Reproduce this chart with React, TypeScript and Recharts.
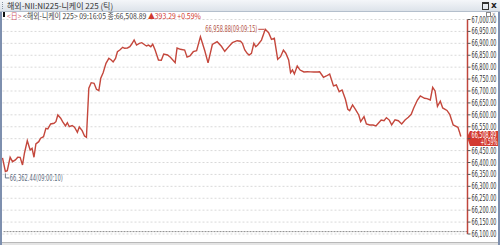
import { LineChart, Line, XAxis, YAxis, CartesianGrid, ReferenceLine } from 'recharts';

const times = [
  '09:00:04', '09:00:10', '09:00:14', '09:00:20', '09:00:25', '09:00:31', '09:00:36', '09:00:41', '09:00:46', '09:00:50', '09:00:56',
  '09:01:02', '09:01:06', '09:01:10', '09:01:14', '09:01:20', '09:01:24', '09:01:30', '09:01:35', '09:01:39', '09:01:45', '09:01:52', '09:01:56',
  '09:02:00', '09:02:06', '09:02:10', '09:02:16', '09:02:20', '09:02:24', '09:02:30', '09:02:35', '09:02:41', '09:02:45', '09:02:51', '09:02:56',
  '09:03:00', '09:03:05', '09:03:10', '09:03:16', '09:03:21', '09:03:26', '09:03:30', '09:03:35', '09:03:41', '09:03:47', '09:03:52', '09:03:56',
  '09:04:01', '09:04:05', '09:04:10', '09:04:16', '09:04:20', '09:04:26', '09:04:31', '09:04:35', '09:04:40', '09:04:45', '09:04:51', '09:04:56',
  '09:05:02', '09:05:06', '09:05:10', '09:05:15', '09:05:19', '09:05:24', '09:05:31', '09:05:37', '09:05:42', '09:05:50', '09:05:56',
  '09:06:06', '09:06:10', '09:06:17', '09:06:26', '09:06:31', '09:06:37', '09:06:44', '09:06:51', '09:06:59',
  '09:07:08', '09:07:15', '09:07:24', '09:07:34', '09:07:43', '09:07:50', '09:07:58',
  '09:08:06', '09:08:16', '09:08:23', '09:08:27', '09:08:32', '09:08:37', '09:08:41', '09:08:46', '09:08:51', '09:08:55', '09:08:59',
  '09:09:07', '09:09:15', '09:09:22', '09:09:28', '09:09:34', '09:09:41', '09:09:47', '09:09:53', '09:09:58',
  '09:10:04', '09:10:08', '09:10:12', '09:10:16', '09:10:22', '09:10:28', '09:10:36', '09:10:43', '09:10:50', '09:10:57',
  '09:11:04', '09:11:09', '09:11:17', '09:11:23', '09:11:30', '09:11:38', '09:11:44', '09:11:50', '09:11:56',
  '09:12:03', '09:12:08', '09:12:12', '09:12:18', '09:12:24', '09:12:31', '09:12:35', '09:12:42', '09:12:47', '09:12:54',
  '09:13:01', '09:13:07', '09:13:12', '09:13:18', '09:13:24', '09:13:29', '09:13:35', '09:13:40', '09:13:47', '09:13:54',
  '09:14:01', '09:14:08', '09:14:15', '09:14:21', '09:14:26', '09:14:34', '09:14:40', '09:14:49', '09:14:54',
  '09:15:01', '09:15:06', '09:15:11', '09:15:16', '09:15:22', '09:15:27', '09:15:36', '09:15:42', '09:15:49', '09:15:54', '09:15:59',
  '09:16:02', '09:16:05',
];

const prices = [
  66419.0, 66362.44, 66365.8, 66422.0, 66403.5, 66410.7, 66422.0, 66421.5, 66389.7, 66438.8, 66491.6,
  66452.6, 66459.7, 66422.0, 66477.8, 66487.4, 66501.7, 66508.4, 66543.6, 66541.2, 66561.7, 66564.6, 66571.3,
  66599.4, 66585.6, 66571.3, 66553.3, 66567.1, 66550.3, 66555.1, 66547.8, 66526.8, 66549.0, 66533.6, 66511.3,
  66505.9, 66711.4, 66734.9, 66732.4, 66707.2, 66701.3, 66753.4, 66776.8, 66816.3, 66837.2, 66830.1, 66821.7,
  66836.5, 66864.9, 66872.1, 66883.4, 66879.2, 66880.5, 66885.9, 66897.2, 66914.0, 66893.0, 66900.2, 66902.7,
  66894.1, 66888.8, 66892.4, 66885.9, 66896.5, 66872.1, 66830.1, 66829.4, 66855.3, 66851.1, 66841.4,
  66818.8, 66880.5, 66875.0, 66871.8, 66841.9, 66846.9, 66864.9, 66869.1, 66927.9,
  66870.0, 66818.1, 66895.1, 66906.9, 66887.6, 66866.6, 66885.2,
  66902.7, 66911.1, 66909.0, 66900.2, 66872.5, 66858.2, 66851.0, 66857.8, 66899.5, 66885.9, 66893.0,
  66913.6, 66958.88, 66944.6, 66916.9, 66921.1, 66833.1, 66844.0, 66871.6, 66858.5,
  66830.5, 66776.8, 66788.2, 66771.4, 66805.0, 66787.9, 66779.8, 66781.0, 66780.1, 66779.6,
  66779.8, 66780.6, 66757.6, 66763.0, 66771.0, 66721.1, 66725.3, 66697.1, 66704.3,
  66665.3, 66623.3, 66617.5, 66641.4, 66623.0, 66599.4, 66571.3, 66592.3, 66561.7, 66557.5,
  66557.1, 66553.3, 66564.6, 66578.4, 66575.5, 66588.1, 66578.0, 66557.9, 66578.8, 66575.2,
  66562.0, 66578.6, 66589.8, 66602.4, 66627.5, 66662.3, 66679.1, 66669.5, 66667.8,
  66662.3, 66715.6, 66700.1, 66635.9, 66657.3, 66628.8, 66618.3, 66600.7, 66557.8, 66553.0, 66547.8,
  66529.4, 66508.89,
];

const yTicks = [
  67000, 66950, 66900, 66850, 66800, 66750, 66700, 66650, 66600, 66550,
  66500, 66450, 66400, 66350, 66300, 66250, 66200, 66150, 66100,
];

const lastTime = '09:16:05';
const change = 393.29;
const changePct = 0.59;
const baseline = 66110;

const toSec = (s: string) => {
  const [h, m, ss] = s.split(':').map(Number);
  return (h - 9) * 3600 + m * 60 + ss;
};

const fmt = (n: number) =>
  n.toLocaleString('en-US', { minimumFractionDigits: 2, maximumFractionDigits: 2 });

const data = times.map((t, i) => ({ t: toSec(t), label: t, price: prices[i] }));
const lastPrice = prices[prices.length - 1];
const maxIdx = prices.indexOf(Math.max(...prices));
const minIdx = prices.indexOf(Math.min(...prices));

const NARROW = '"Liberation Sans Narrow", "Arial Narrow", "DejaVu Sans Condensed", sans-serif';
const KR = '"Noto Sans CJK KR", sans-serif';
const LINE_RED = '#c4473c';

function ExtremeDot(props: any) {
  const { cx, cy, index } = props;
  if (index === maxIdx) {
    return (
      <g key={`dot-${index}`}>
        <line x1={cx - 7} y1={cy} x2={cx - 1} y2={cy} stroke={LINE_RED} strokeWidth={1} />
        <text x={cx - 60} y={cy} dominantBaseline="central" fontSize={8.5} fontFamily={NARROW} fill="#b5574a"
          textLength={52} lengthAdjust="spacingAndGlyphs">
          {`${fmt(prices[index])}(${times[index]})`}
        </text>
      </g>
    );
  }
  if (index === minIdx) {
    return (
      <g key={`dot-${index}`}>
        <path d={`M${cx},${cy + 2} V${cy + 6.5} H${cx + 4}`} fill="none" stroke="#6a7888" strokeWidth={1} />
        <text x={cx + 4.5} y={cy + 6.5} dominantBaseline="central" fontSize={8.5} fontFamily={NARROW} fill="#5c6b7e"
          textLength={53} lengthAdjust="spacingAndGlyphs">
          {`${fmt(prices[index])}(${times[index]})`}
        </text>
      </g>
    );
  }
  return <g key={`dot-${index}`} />;
}

// the price tag covers the label next to the last price, as in the original terminal
function YTick(props: any) {
  const { x, y, payload } = props;
  if (Math.abs(payload.value - lastPrice) < 25) return <g />;
  return (
    <text x={x} y={y} dominantBaseline="central" fontSize={8.5} fontFamily={NARROW} fill="#333"
      textLength={25} lengthAdjust="spacingAndGlyphs">
      {fmt(payload.value)}
    </text>
  );
}

function PriceTag(props: any) {
  const vb = props.viewBox || {};
  const x = vb.x + vb.width;
  const y = vb.y;
  return (
    <g>
      <path d={`M${x - 0.5},${y + 0.5} L${x + 2.5},${y - 5.5} H${x + 31} V${y + 9.5} H${x + 2.5} Z`} fill="#d33a30" />
      <text x={x + 4} y={y - 1} dominantBaseline="central" fontSize={8} fontFamily={NARROW} fill="#fff"
        textLength={25} lengthAdjust="spacingAndGlyphs">
        {fmt(lastPrice)}
      </text>
      <text x={x + 13} y={y + 5.5} dominantBaseline="central" fontSize={8} fontFamily={NARROW} fill="#fff"
        textLength={17} lengthAdjust="spacingAndGlyphs">
        {`+${changePct.toFixed(2)}%`}
      </text>
    </g>
  );
}

export default function App() {
  return (
    <div style={{ position: 'absolute', left: 0, top: 0, width: 500, height: 245, background: '#fff', overflow: 'hidden' }}>
      <LineChart width={500} height={245} data={data} margin={{ top: 19.5, right: 0, bottom: 11, left: 2.5 }}>
        <CartesianGrid vertical={false} stroke="#d9d9d9" strokeDasharray="2 2" />
        <XAxis dataKey="t" type="number" domain={[4, 979]} hide />
        <YAxis
          orientation="right"
          width={32.5}
          domain={[66100, 67000]}
          ticks={yTicks}
          interval={0}
          axisLine={{ stroke: '#c0463c', strokeWidth: 1.5 }}
          tickLine={{ stroke: '#555' }}
          tickSize={3}
          tickMargin={1}
          tick={<YTick />}
        />
        <ReferenceLine y={baseline} stroke="#8a8a8a" strokeDasharray="2 1" />
        <Line
          type="linear"
          dataKey="price"
          stroke={LINE_RED}
          strokeWidth={1.4}
          dot={ExtremeDot}
          activeDot={false}
          isAnimationActive={false}
        />
        <ReferenceLine y={lastPrice} stroke="none" label={(p: any) => <PriceTag {...p} />} />
      </LineChart>

      {/* title bar */}
      <div style={{
        position: 'absolute', left: 0, top: 0, width: 500, height: 11,
        background: 'linear-gradient(#f4f6f9, #dde3ea)', borderBottom: '1px solid #b4bfcc',
      }}>
        <div style={{ position: 'absolute', left: 2, top: 2, height: 7, borderLeft: '1px dotted #8894a4' }} />
        <div style={{
          position: 'absolute', left: 7, top: 0, lineHeight: '11px', fontSize: 8, fontFamily: KR, color: '#333', whiteSpace: 'nowrap',
        }}>
          해외-NII:NI225-니케이 225 (틱)
        </div>
        <div style={{ position: 'absolute', left: 482, top: 2, width: 5, height: 5, border: '1px solid #333', borderTopWidth: 2 }} />
        <div style={{ position: 'absolute', left: 491, top: 0, lineHeight: '11px', fontSize: 9, fontWeight: 700, fontFamily: 'DejaVu Sans', color: '#222' }}>
          x
        </div>
      </div>

      {/* info line */}
      <div style={{ position: 'absolute', left: 3, top: 12, width: 2, height: 5, background: '#111' }} />
      <div style={{
        position: 'absolute', left: 7, top: 11, lineHeight: '10px', fontSize: 8, fontFamily: KR, color: '#444', whiteSpace: 'nowrap',
        transform: 'scaleX(0.86)', transformOrigin: 'left center',
      }}>
        <span style={{ color: '#d05a6a' }}>{'<日>'}</span>
        {` <해외-니케이 225> ${lastTime} 종:${fmt(lastPrice)} `}
        <span style={{ color: '#d03a30' }}>{`▲${fmt(change)} +${changePct.toFixed(2)}%`}</span>
      </div>
      <div style={{ position: 'absolute', left: 486, top: 11.5, width: 3, height: 3, border: '1px solid #888' }} />
      <div style={{ position: 'absolute', left: 492, top: 10.5, lineHeight: '6px', fontSize: 6, fontFamily: 'DejaVu Sans', color: '#888' }}>x</div>

      {/* frame */}
      <div style={{ position: 'absolute', left: 0, top: 12, width: 2, height: 233, background: '#7d8fae' }} />
      <div style={{ position: 'absolute', left: 498, top: 12, width: 2, height: 233, background: '#7d8fae' }} />
      <div style={{ position: 'absolute', left: 2, top: 242, width: 496, height: 3, background: '#e4e4e4', borderTop: '1px solid #b8b8b8' }} />
    </div>
  );
}
